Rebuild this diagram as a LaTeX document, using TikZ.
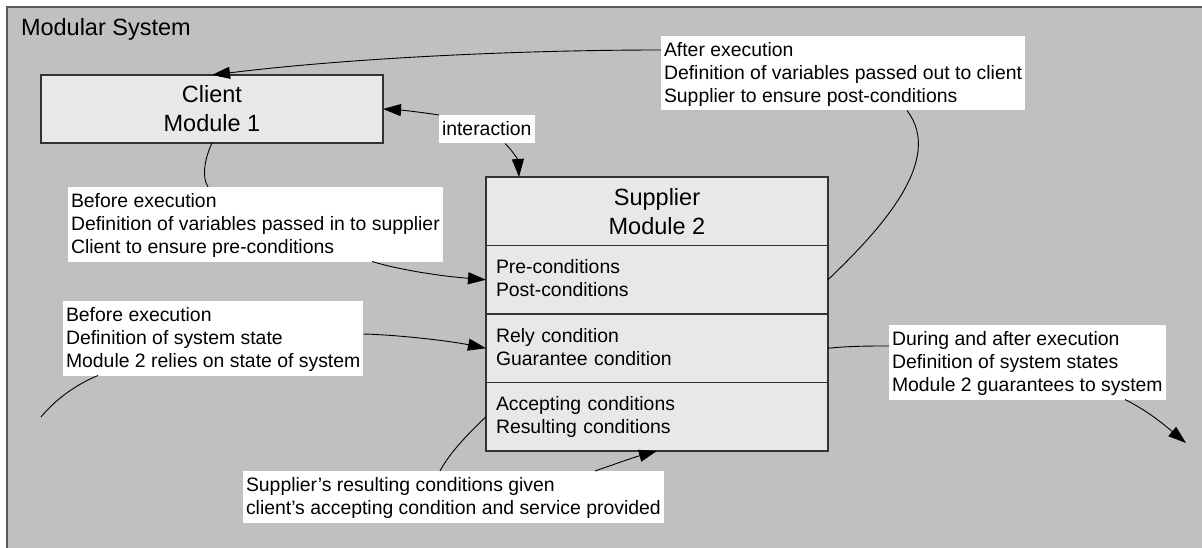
\documentclass[tikz,border=0pt]{standalone}
\usepackage{fontspec}
\setmainfont{Liberation Sans}
\usetikzlibrary{arrows.meta,calc}

% struts that fix the first baseline and the bottom margin of the white notes
\newcommand\lnA{\rule{0pt}{20.5pt}}
\newcommand\lnZ{\rule[-8pt]{0pt}{8pt}}
% struts for the compartments of the supplier box
\newcommand\secA{\rule{0pt}{15pt}}
\newcommand\secZ{\rule[-4.5pt]{0pt}{4.5pt}}

\definecolor{sysgray}{HTML}{C0C0C0}
\definecolor{boxgray}{HTML}{E8E8E8}
\definecolor{edgegray}{HTML}{333333}
\definecolor{framegray}{HTML}{5A5A5A}

\begin{document}
\begin{tikzpicture}[x=1pt,y=-1pt,
  every node/.style={outer sep=0pt},
  module/.style={draw=edgegray, line width=1.2pt, fill=boxgray, minimum width=342pt,
                 inner sep=0pt, anchor=north west},
  head/.style={module, align=center, font=\fontsize{23.5}{29}\selectfont},
  part/.style={module, minimum height=68.5pt, text width=322pt, inner xsep=10pt,
               align=left, font=\fontsize{19.4}{23}\selectfont},
  note/.style={fill=white, inner xsep=3pt, inner ysep=0pt, align=left, anchor=north west,
               font=\fontsize{19.4}{23}\selectfont},
  link/.style={draw=black, line width=0.9pt},
  flow/.style={link, -{Triangle[length=18pt,width=12pt]}},
]
\clip (0,0) rectangle (1202,548);
\fill[white] (0,0) rectangle (1202,548);

% the system frame
\draw[fill=sysgray, draw=framegray, line width=1.2pt] (7,7) rectangle (1220,560);
\node[anchor=base west, inner sep=0pt, font=\fontsize{23.5}{28}\selectfont] (title) at (21,36) {Modular System};

% modules
\node[head, minimum height=68pt] (client) at (41,75) {Client\\Module 1};
\node[head, minimum height=68.5pt] (sup) at (486,177) {Supplier\\Module 2};
\node[part] (pre)  at (486,245.5) {\secA Pre-conditions\\Post-conditions\secZ};
\node[part] (rely) at (486,314)   {\secA Rely condition\\Guarantee condition\secZ};
\node[part] (acc)  at (486,382.5) {\secA Accepting conditions\\Resulting conditions\secZ};

% notes
\node[note] (inter) at (439,115) {\lnA interaction\lnZ};
\node[note] (after) at (661,36) {\lnA After execution\\Definition of variables passed out to client\\Supplier to ensure post-conditions\lnZ};
\node[note] (prein) at (68,187) {\lnA Before execution\\Definition of variables passed in to supplier\\Client to ensure pre-conditions\lnZ};
\node[note] (state) at (63,301) {\lnA Before execution\\Definition of system state\\Module 2 relies on state of system\lnZ};
\node[note] (during) at (889,325) {\lnA During and after execution\\Definition of system states\\Module 2 guarantees to system\lnZ};
\node[note] (result) at (243,471) {\lnA Supplier’s resulting conditions given\\client’s accepting condition and service provided\lnZ};

% open ends of the system-state connectors
\coordinate (sysin) at (41,417);
\coordinate (sysout) at (1186,443);

% connectors
\draw[flow] ($(after.north west)+(0,14)$) .. controls (520,50) and (350,58) .. (client.north);
\draw[link] (pre.east) .. controls (880,230) and (945,160) .. ($(after.south west)+(246,0)$);
\draw[link] (client.south) .. controls (204,160) and (202,178) .. ($(prein.north west)+(140,0)$);
\draw[flow] ($(prein.south west)+(304,0)$) .. controls (400,270) and (440,276) .. (pre.west);
\draw[flow] ($(state.north east)+(0,33)$) .. controls (400,335) and (450,341) .. (rely.west);
\draw[link] (sysin) .. controls (55,400) and (75,385) .. ($(state.south west)+(35,0)$);
\draw[link] (rely.east) .. controls (850,346) and (870,346) .. ($(during.north west)+(0,21)$);
\draw[flow] ($(during.south west)+(236,0)$) .. controls (1150,412) and (1168,428) .. (sysout);
\draw[link] (acc.west) .. controls (470,432) and (450,452) .. ($(result.north west)+(197,0)$);
\draw[flow] ($(result.north west)+(352,0)$) .. controls (615,464) and (635,457) .. (acc.south);
\draw[flow] (inter.north west) .. controls (420,112) and (400,110) .. (client.east);
\draw[flow] ($(inter.south west)+(66,0)$) .. controls (512,150) and (518,160) .. ($(sup.north west)+(33,0)$);
\end{tikzpicture}
\end{document}
